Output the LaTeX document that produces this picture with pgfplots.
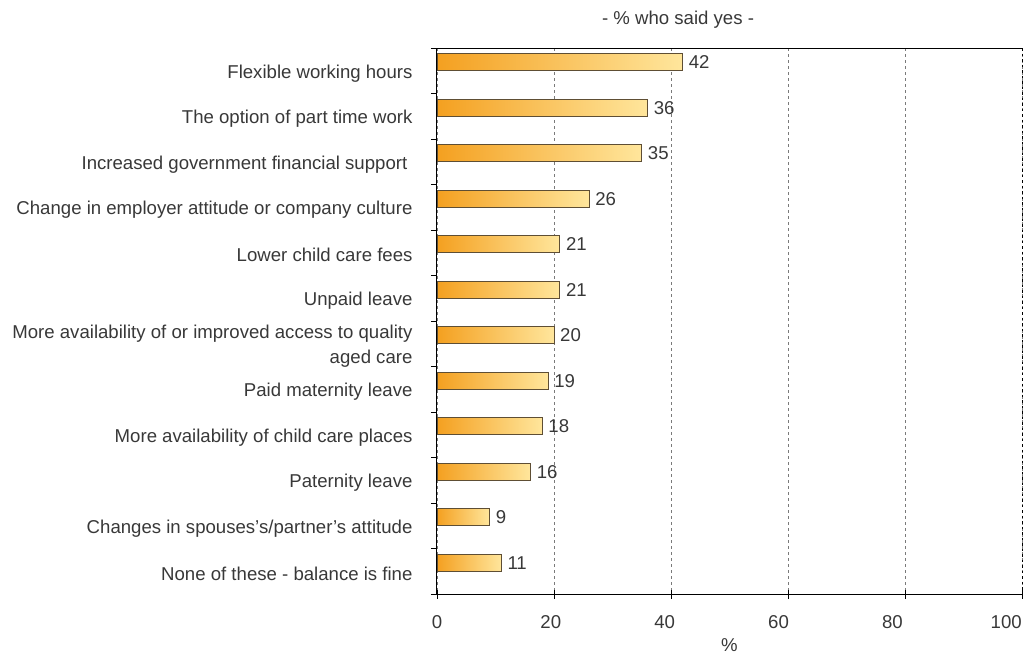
\documentclass[border=0pt]{standalone}
\usepackage{fontspec}
\setmainfont{Liberation Sans}
\usepackage{pgfplots}
\pgfplotsset{compat=1.18}
\definecolor{txt}{HTML}{383838}
\definecolor{barL}{HTML}{F4A020}
\definecolor{barR}{HTML}{FFE69C}
\definecolor{barB}{HTML}{5E4E34}
\definecolor{gridc}{HTML}{7A7A7A}
\newcommand{\lab}{\fontsize{18.6}{25}\selectfont\color{txt}}
\pgfplotsset{mybar/.style={draw=barB, line width=0.7pt, left color=barL, right color=barR}}
\begin{document}
\begin{tikzpicture}
\useasboundingbox (-437pt,-60pt) rectangle (588pt,594pt);
\begin{axis}[
  at={(0,0)}, anchor=south west,
  scale only axis, width=585pt, height=546pt,
  xbar, bar width=17pt, bar shift=8.5pt,
  xmin=0, xmax=100, ymin=-0.5, ymax=11.5, y dir=reverse,
  axis line style={draw=none},
  tick align=outside,
  xtick pos=bottom, ytick pos=left,
  xtick={0,20,...,100}, xticklabels={},
  major x tick style={yshift=4.5pt, line width=0.9pt, black},
  major tick length=9pt,
  xmajorgrids, x grid style={gridc, line width=0.9pt, dash pattern=on 2.5pt off 3.5pt},
  extra x ticks={0,19.46,38.92,58.38,77.84,97.3},
  extra x tick labels={0,20,40,60,80,100},
  extra x tick style={major tick length=0pt, grid=none, tick style={draw=none},
     xticklabel style={yshift=-18pt}},
  xticklabel style={font=\lab},
  /pgf/number format/assume math mode=true,
  ytick={0,...,11},
  yticklabels={Flexible working hours, The option of part time work, Increased government financial support\ , Change in employer attitude or company culture, Lower child care fees, Unpaid leave, {More availability of or improved access to quality\\aged care}, Paid maternity leave, More availability of child care places, Paternity leave, Changes in spouses's/partner's attitude, None of these - balance is fine},
  yticklabel style={font=\lab, align=right, xshift=-12pt, yshift=-2.5pt},
  major y tick style={draw=none},
  minor ytick={-0.5,0.5,...,11.5},
  minor y tick style={line width=0.9pt, black},
  minor tick length=6pt,
  nodes near coords,
  every node near coord/.append style={font=\lab, text=txt, anchor=west, xshift=2.5pt},
  clip=false,
]
\addplot[mybar] coordinates {(42,0)};
\addplot[mybar] coordinates {(36,1)};
\addplot[mybar] coordinates {(35,2)};
\addplot[mybar] coordinates {(26,3)};
\addplot[mybar] coordinates {(21,4)};
\addplot[mybar] coordinates {(21,5)};
\addplot[mybar] coordinates {(20,6)};
\addplot[mybar] coordinates {(19,7)};
\addplot[mybar] coordinates {(18,8)};
\addplot[mybar] coordinates {(16,9)};
\addplot[mybar] coordinates {(9,10)};
\addplot[mybar] coordinates {(11,11)};
\draw[black, line width=1pt] (axis cs:0,-0.5) -- (axis cs:100,-0.5);
\draw[black, line width=1pt] (axis cs:0,-0.5) -- (axis cs:0,11.5) -- (axis cs:100,11.5);
\draw[black, line width=0.9pt, dash pattern=on 2.5pt off 3pt] (axis cs:100,-0.5) -- (axis cs:100,11.5);
\node[font=\lab] at (axis cs:41.2,-0.5) [yshift=28pt] {- \% who said yes -};
\node[font=\lab] at (axis cs:50,11.5) [yshift=-51pt] {\%};
\end{axis}
\end{tikzpicture}
\end{document}
